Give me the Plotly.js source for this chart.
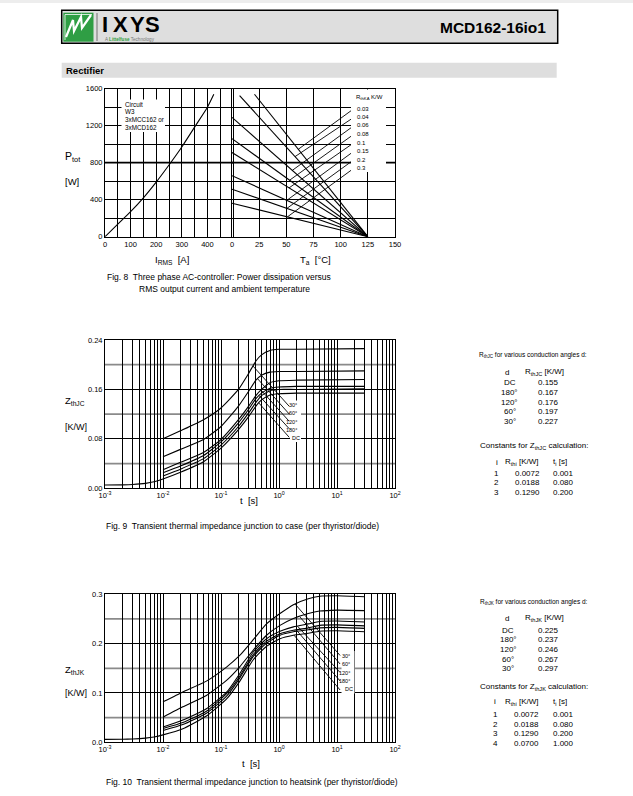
<!DOCTYPE html>
<html><head><meta charset="utf-8">
<script src="https://cdn.plot.ly/plotly-3.0.1.min.js"></script>
<style>html,body{margin:0;padding:0;background:#fff}#page{width:633px;height:796px}</style>
</head><body><div id="page"></div>
<script>
// ===== Fig. 8 data =====
const iRms  = [0, 50, 100, 150, 200, 250, 300, 350, 400, 425];
const pTotI = [0, 135, 270, 420, 590, 775, 970, 1185, 1400, 1540];
const rthKA   = ['0.03', '0.04', '0.06', '0.08', '0.1', '0.15', '0.2', '0.3'];
const taStart = [20.7, 7, 0, 0, 0, 0, 0, 0];
const pStart  = [1540, 1525, 1290, 1060, 910, 660, 513, 362];
const taZero  = 125;
const leaderTa = [61, 58, 55.5, 53, 52.5, 50.5, 50.5, 51];
const labelTa  = 110.5;
const labelP   = [1370, 1278, 1186, 1094, 1002, 910, 818, 726];
const circuitLines = ['Circuit', 'W3', '3xMCC162 or', '3xMCD162'];
const iTicks  = [0, 100, 200, 300, 400];
const taTicks = [0, 25, 50, 75, 100, 125, 150];
const pTicks  = [0, 400, 800, 1200, 1600];

// ===== Fig. 9 data (Z_thJC) =====
const angleLabels = ['30°', '60°', '120°', '180°', 'DC'];
const t9 = [0.01, 0.02, 0.05, 0.1, 0.2, 0.3, 0.4, 0.5, 0.7, 1, 2, 30];
const z9_30    = [0.080, 0.093, 0.111, 0.130, 0.160, 0.186, 0.206, 0.216, 0.223, 0.225, 0.225, 0.226];
const z9_60    = [0.051, 0.063, 0.079, 0.100, 0.133, 0.157, 0.175, 0.183, 0.188, 0.189, 0.189, 0.190];
const z9_120   = [0.030, 0.042, 0.058, 0.079, 0.111, 0.133, 0.150, 0.160, 0.171, 0.174, 0.175, 0.176];
const z9_180   = [0.025, 0.036, 0.053, 0.075, 0.106, 0.128, 0.145, 0.154, 0.162, 0.164, 0.165, 0.165];
const z9_extra = [0.020, 0.031, 0.048, 0.070, 0.100, 0.122, 0.139, 0.150, 0.158, 0.160, 0.160, 0.161];
const t9dc  = [0.001, 0.002, 0.003, 0.005, 0.007, 0.01, 0.02, 0.05, 0.1, 0.2, 0.3, 0.4, 0.5, 0.7, 1, 2, 30];
const z9_dc = [0.0053, 0.0056, 0.0062, 0.0080, 0.0105, 0.0151, 0.026, 0.043, 0.065, 0.095, 0.116, 0.133, 0.143, 0.151, 0.153, 0.154, 0.154];
const lead9T = [0.355, 0.43, 0.49, 0.455, 0.45];
const lead9Z = [0.198, 0.177, 0.159, 0.150, 0.138];
const lab9T  = 1.5;
const lab9Z  = [0.1327, 0.1202, 0.1084, 0.0964, 0.0825];
const z9Ticks = ['0.00', '0.08', '0.16', '0.24'];
const rthjcAngles = ['DC', '180°', '120°', '60°', '30°'];
const rthjcVals   = ['0.155', '0.167', '0.176', '0.197', '0.227'];
const const9i  = ['1', '2', '3'];
const const9R  = ['0.0072', '0.0188', '0.1290'];
const const9t  = ['0.001', '0.080', '0.200'];

// ===== Fig. 10 data (Z_thJK) =====
const t10 = [0.01, 0.022, 0.056, 0.126, 0.21, 0.36, 0.61, 1.04, 1.77, 3.2, 5, 10, 30];
const z10_30    = [0.082, 0.102, 0.124, 0.153, 0.176, 0.208, 0.240, 0.261, 0.279, 0.291, 0.296, 0.297, 0.295];
const z10_60    = [0.051, 0.072, 0.095, 0.126, 0.153, 0.187, 0.217, 0.237, 0.251, 0.261, 0.266, 0.268, 0.267];
const z10_120   = [0.031, 0.045, 0.068, 0.102, 0.139, 0.183, 0.210, 0.225, 0.234, 0.240, 0.245, 0.246, 0.244];
const z10_180   = [0.028, 0.040, 0.063, 0.099, 0.134, 0.178, 0.205, 0.220, 0.227, 0.232, 0.237, 0.238, 0.236];
const z10_extra = [0.024, 0.036, 0.059, 0.094, 0.130, 0.174, 0.201, 0.217, 0.224, 0.228, 0.232, 0.233, 0.231];
const t10dc  = [0.001, 0.002, 0.003, 0.005, 0.007, 0.01, 0.022, 0.056, 0.126, 0.21, 0.36, 0.61, 1.04, 1.77, 3.2, 5, 10, 30];
const z10_dc = [0.0060, 0.0062, 0.0068, 0.0085, 0.0108, 0.0150, 0.0276, 0.0533, 0.0884, 0.1236, 0.1674, 0.1946, 0.210, 0.217, 0.221, 0.225, 0.226, 0.224];
const lead10T = [1.9, 2.3, 2.1, 1.98, 1.82];
const lead10Z = [0.280, 0.254, 0.235, 0.228, 0.217];
const lab10T  = 11.3;
const lab10Z  = [0.176, 0.1587, 0.1415, 0.1243, 0.106];
const z10Ticks = ['0.0', '0.1', '0.2', '0.3'];
const rthjkAngles = ['DC', '180°', '120°', '60°', '30°'];
const rthjkVals   = ['0.225', '0.237', '0.246', '0.267', '0.297'];
const const10i = ['1', '2', '3', '4'];
const const10R = ['0.0072', '0.0188', '0.1290', '0.0700'];
const const10t = ['0.001', '0.080', '0.200', '1.000'];

// ===== layout helpers =====
const W = 633, H = 796;
const FONT = 'Liberation Sans, Arial, Helvetica, sans-serif';
const X = p => p / W, Y = p => 1 - p / H;
function ann(text, x, y, size, opts) {
  return Object.assign({text: text, x: X(x), y: Y(y), xref: 'paper', yref: 'paper', showarrow: false,
    xanchor: 'left', yanchor: 'middle', font: {family: FONT, size: size, color: '#000'}}, opts || {});
}
function prect(x0, y0, x1, y1, fill, line) {
  return {type: 'rect', xref: 'paper', yref: 'paper', x0: X(x0), x1: X(x1), y0: Y(y0), y1: Y(y1),
    fillcolor: fill, line: line || {width: 0}, layer: 'above'};
}
function ppath(pts, color, width) {
  return {type: 'path', xref: 'paper', yref: 'paper',
    path: pts.map((p, i) => (i ? 'L' : 'M') + X(p[0]) + ',' + Y(p[1])).join(' '),
    line: {color: color, width: width}, layer: 'above'};
}
function hline(axn, v, color, width) {
  return {type: 'line', xref: axn === '' ? 'x domain' : 'x' + axn + ' domain', yref: 'y' + axn,
    x0: 0, x1: 1, y0: v, y1: v, line: {color: color, width: width}, layer: 'below'};
}
const minorGrid = vals => ({tickmode: 'array', tickvals: vals, showgrid: true, gridcolor: '#000', gridwidth: 1, ticks: ''});

const axBase = {showline: true, mirror: true, linecolor: '#000', linewidth: 1, ticks: '', showgrid: true,
  gridcolor: '#000', gridwidth: 1, zeroline: false, fixedrange: true, tickmode: 'array',
  tickfont: {family: FONT, size: 7.5, color: '#000'}};
const ax = o => Object.assign({}, axBase, o);

// log axis: decade labels, 2..9 as minor grid
const decVals = [], decText = [], logMinor = [];
for (let d = -3; d <= 2; d++) {
  decVals.push(Math.pow(10, d)); decText.push('10<sup>' + d + '</sup>');
  if (d < 2) for (let m = 2; m <= 9; m++) logMinor.push(m * Math.pow(10, d));
}

const f8y = [88.7, 236.7], f9y = [340, 488.3], f10y = [594.3, 742.3];

const layout = {
  width: W, height: H, margin: {l: 0, r: 0, t: 0, b: 0}, paper_bgcolor: '#fff', plot_bgcolor: 'rgba(0,0,0,0)',
  showlegend: false, font: {family: FONT, color: '#000'},
  xaxis: ax({domain: [X(105), X(233)], range: [0, 500], anchor: 'y',
    tickvals: iTicks, ticktext: iTicks.map(String), minor: minorGrid([50, 150, 250, 350, 450])}),
  yaxis: ax({domain: [Y(f8y[1]), Y(f8y[0])], range: [0, 1600], anchor: 'x',
    tickvals: pTicks, ticktext: pTicks.map(String), minor: minorGrid([200, 600, 1000, 1400])}),
  xaxis2: ax({domain: [X(232), X(395)], range: [0, 150], anchor: 'y2',
    tickvals: taTicks, ticktext: taTicks.map(String)}),
  yaxis2: ax({domain: [Y(f8y[1]), Y(f8y[0])], range: [0, 1600], anchor: 'x2', showticklabels: false,
    tickvals: pTicks, minor: minorGrid([200, 600, 1000, 1400])}),
  xaxis3: ax({type: 'log', domain: [X(105), X(395)], range: [-3, 2], anchor: 'y3', tickvals: decVals, ticktext: decText, minor: minorGrid(logMinor)}),
  yaxis3: ax({domain: [Y(f9y[1]), Y(f9y[0])], range: [0, 0.24], anchor: 'x3',
    tickvals: [0, 0.08, 0.16, 0.24], ticktext: z9Ticks}),
  xaxis4: ax({type: 'log', domain: [X(105), X(395)], range: [-3, 2], anchor: 'y4', tickvals: decVals, ticktext: decText, minor: minorGrid(logMinor)}),
  yaxis4: ax({domain: [Y(f10y[1]), Y(f10y[0])], range: [0, 0.3], anchor: 'x4',
    tickvals: [0, 0.1, 0.2, 0.3], ticktext: z10Ticks}),
  shapes: [], annotations: []
};

// ===== traces =====
const L = {color: '#000', width: 1.1};
const traces = [];
traces.push({x: iRms, y: pTotI, xaxis: 'x', yaxis: 'y', mode: 'lines', line: Object.assign({shape: 'spline', smoothing: 0.6}, L)});
rthKA.forEach((r, i) => {
  traces.push({x: [taStart[i], taZero], y: [pStart[i], 0], xaxis: 'x2', yaxis: 'y2', mode: 'lines', line: L});
  const pOn = pStart[i] * (taZero - leaderTa[i]) / (taZero - taStart[i]);
  traces.push({x: [leaderTa[i], labelTa], y: [pOn, labelP[i]], xaxis: 'x2', yaxis: 'y2', mode: 'lines', line: {color: '#000', width: 0.9}});
});
const sp = Object.assign({shape: 'spline', smoothing: 0.5}, L);
[z9_30, z9_60, z9_120, z9_180, z9_extra].forEach(z => traces.push({x: t9, y: z, xaxis: 'x3', yaxis: 'y3', mode: 'lines', line: sp}));
traces.push({x: t9dc, y: z9_dc, xaxis: 'x3', yaxis: 'y3', mode: 'lines', line: sp});
lead9T.forEach((t, i) => traces.push({x: [t, lab9T], y: [lead9Z[i], lab9Z[i]], xaxis: 'x3', yaxis: 'y3', mode: 'lines', line: {color: '#000', width: 0.9}}));
[z10_30, z10_60, z10_120, z10_180, z10_extra].forEach(z => traces.push({x: t10, y: z, xaxis: 'x4', yaxis: 'y4', mode: 'lines', line: sp}));
traces.push({x: t10dc, y: z10_dc, xaxis: 'x4', yaxis: 'y4', mode: 'lines', line: sp});
lead10T.forEach((t, i) => traces.push({x: [t, lab10T], y: [lead10Z[i], lab10Z[i]], xaxis: 'x4', yaxis: 'y4', mode: 'lines', line: {color: '#000', width: 0.9}}));

// ===== shapes =====
const S = layout.shapes, A = layout.annotations;
// heavier 800 W line (grid drawn over it) and grey intermediate grid of Fig 9 / Fig 10
S.push(hline('', 800, '#000', 1.7));
S.push(hline('2', 800, '#000', 1.7));
[0.04, 0.12, 0.20].forEach(v => S.push(hline('3', v, '#8a8a8a', 1.8)));
[0.05, 0.15, 0.25].forEach(v => S.push(hline('4', v, '#8a8a8a', 1.8)));
S.push(prect(0, 0, 633, 3, 'rgba(0,0,0,0.07)'));
// header
S.push(prect(61.7, 10.3, 557.7, 43.3, '#dedede', {color: '#000', width: 1.5}));
S.push(prect(63.3, 12.7, 93.5, 41.7, '#2f9e44', {width: 0}));
S.push(ppath([[65, 40], [65, 14.5], [92, 14.5]], '#ffffff', 0.8));
S.push(ppath([[66, 37], [73, 20], [74, 31], [81, 17], [82, 28], [91, 15]], '#ffffff', 2.2));
S.push(ppath([[97, 13], [97, 41]], '#555555', 0.8));
// Rectifier band
S.push(prect(61.7, 62.7, 556.7, 77.7, '#dedede'));
// white label boxes covering the grid
S.push(prect(121.5, 99.5, 165, 132, '#fff'));
S.push(prect(351, 89.5, 386, 172, '#fff'));
S.push(prect(290, 400.5, 301, 442, '#fff'));
S.push(prect(341.5, 651, 354.5, 693.5, '#fff'));

// ===== annotations =====
// header
[['I', 104.7], ['X', 120.8], ['Y', 137.5], ['S', 152.8]].forEach(l => A.push(ann('<b>' + l[0] + '</b>', l[1], 25, 22, {xanchor: 'center'})));
A.push(ann('A <b><span style="color:#2f9e44">Littelfuse</span></b> Technology', 102.5, 39.3, 4.6, {font: {family: FONT, size: 4.6, color: '#777'}}));
A.push(ann('<b>MCD162-16io1</b>', 548, 27.5, 15.5, {xanchor: 'right'}));
A.push(ann('<b>Rectifier</b>', 64, 70.3, 9.5));

// Fig 8
A.push(ann('P<sub>tot</sub>', 63, 157, 10.5));
A.push(ann('[W]', 63, 182, 9.5));
A.push(ann('I<sub>RMS</sub>  [A]', 171.5, 260, 9.5, {xanchor: 'center'}));
A.push(ann('T<sub>a</sub>  [°C]', 315, 260, 9.5, {xanchor: 'center'}));
circuitLines.forEach((s, i) => A.push(ann(s, 123.3, 104 + i * 7.8, 6.3)));
A.push(ann('R<sub>thKA</sub> K/W', 354, 97, 6));
rthKA.forEach((r, i) => A.push(ann(r, 354.5, 108.5 + i * 8.5, 6)));
A.push(ann('Fig. 8  Three phase AC-controller: Power dissipation versus', 105, 276.7, 8.5));
A.push(ann('RMS output current and ambient temperature', 137, 289.3, 8.5));

// Fig 9
A.push(ann('Z<sub>thJC</sub>', 63, 401, 9.5));
A.push(ann('[K/W]', 63, 427, 9));
A.push(ann('t  [s]', 249, 500, 9.5, {xanchor: 'center'}));
const y9 = [405, 413.3, 422.3, 430, 437.7];
angleLabels.forEach((s, i) => A.push(ann(s, s === 'DC' ? 290 : 298.5, y9[i], 5.5, {xanchor: s === 'DC' ? 'left' : 'right'})));
A.push(ann('Fig. 9  Transient thermal impedance junction to case (per thyristor/diode)', 104, 526, 8.5));
A.push(ann('R<sub>thJC</sub> for various conduction angles d:', 476.7, 354.5, 6.5));
A.push(ann('d', 506.7, 372, 8, {xanchor: 'center'}));
A.push(ann('R<sub>thJC</sub> [K/W]', 523.3, 372, 8));
const r9y = [382.7, 392.3, 402, 411.5, 421];
rthjcAngles.forEach((s, i) => { A.push(ann(s, 509.5, r9y[i], 8, {xanchor: 'center'})); A.push(ann(rthjcVals[i], 536, r9y[i], 8)); });
A.push(ann('Constants for Z<sub>thJC</sub> calculation:', 478.3, 446, 8));
A.push(ann('i', 496.7, 462.3, 8, {xanchor: 'center'}));
A.push(ann('R<sub>thi</sub> [K/W]', 503.3, 462.3, 8));
A.push(ann('t<sub>i</sub> [s]', 550.7, 462.3, 8));
const c9y = [473.3, 482.7, 492];
const9i.forEach((s, i) => { A.push(ann(s, 496.7, c9y[i], 8, {xanchor: 'center'})); A.push(ann(const9R[i], 513.3, c9y[i], 8)); A.push(ann(const9t[i], 550.7, c9y[i], 8)); });

// Fig 10
A.push(ann('Z<sub>thJK</sub>', 63, 670, 9.5));
A.push(ann('[K/W]', 63, 693.3, 9));
A.push(ann('t  [s]', 250.8, 763.3, 9.5, {xanchor: 'center'}));
const y10 = [656, 664.3, 672.5, 680.7, 689];
angleLabels.forEach((s, i) => A.push(ann(s, s === 'DC' ? 342.7 : 352, y10[i], 5.5, {xanchor: s === 'DC' ? 'left' : 'right'})));
A.push(ann('Fig. 10  Transient thermal impedance junction to heatsink (per thyristor/diode)', 104, 782, 8.5));
A.push(ann('R<sub>thJK</sub> for various conduction angles d:', 478.3, 601.7, 6.5));
A.push(ann('d', 506.7, 618.3, 8, {xanchor: 'center'}));
A.push(ann('R<sub>thJK</sub> [K/W]', 523.3, 618.3, 8));
const r10y = [630, 639.3, 649.3, 659.3, 668.3];
rthjkAngles.forEach((s, i) => { A.push(ann(s, 508, r10y[i], 8, {xanchor: 'center'})); A.push(ann(rthjkVals[i], 536, r10y[i], 8)); });
A.push(ann('Constants for Z<sub>thJK</sub> calculation:', 478.3, 686.7, 8));
A.push(ann('i', 495, 701.7, 8, {xanchor: 'center'}));
A.push(ann('R<sub>thi</sub> [K/W]', 503.3, 701.7, 8));
A.push(ann('t<sub>i</sub> [s]', 550.7, 701.7, 8));
const c10y = [714.3, 724.3, 733.3, 743.3];
const10i.forEach((s, i) => { A.push(ann(s, 495, c10y[i], 8, {xanchor: 'center'})); A.push(ann(const10R[i], 511.7, c10y[i], 8)); A.push(ann(const10t[i], 550.7, c10y[i], 8)); });

Plotly.newPlot('page', traces, layout, {staticPlot: true, displayModeBar: false});
</script></body></html>
